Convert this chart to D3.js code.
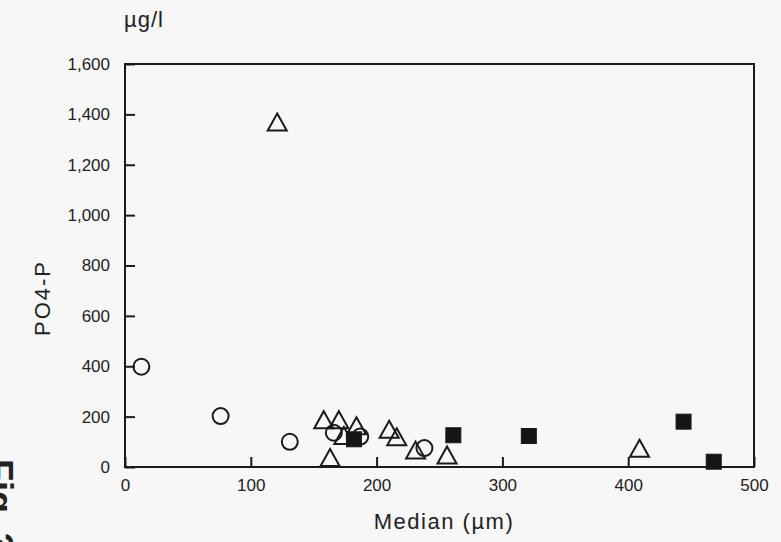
<!DOCTYPE html>
<html>
<head>
<meta charset="utf-8">
<script src="https://cdn.jsdelivr.net/npm/d3@7"></script>
<style>
  html, body { margin: 0; padding: 0; background: #f7f7f7; }
  svg { display: block; }
  text { font-family: "Liberation Sans", Arial, sans-serif; fill: #222; }
</style>
</head>
<body>
<svg id="chart" width="781" height="542"></svg>
<script>
// ---- data ----
const xTicks = [0, 100, 200, 300, 400, 500];
const yTicks = [0, 200, 400, 600, 800, 1000, 1200, 1400, 1600];

const circleX = [13, 76, 131, 166, 187, 238];
const circleY = [398, 202, 100, 136, 121, 75];

const triangleX = [121, 158, 170, 184, 174, 163, 210, 216, 231, 256, 409];
const triangleY = [1370, 188, 188, 164, 125, 38, 150, 120, 67, 48, 74];

const squareX = [182, 261, 321, 444, 468];
const squareY = [110, 126, 123, 180, 21];

const xLabel = "Median (µm)";
const yLabel = "PO4-P";
const unitLabel = "µg/l";
const figLabel = "Fig. 3";

// ---- layout ----
const svg = d3.select("#chart");
const mLeft = 125, mRight = 754, mTop = 64, mBottom = 467;

const x = d3.scaleLinear().domain([0, 500]).range([mLeft, mRight]);
const y = d3.scaleLinear().domain([0, 1600]).range([mBottom, mTop]);
const fmt = d3.format(",");
const ink = "#1a1a1a";

// frame
svg.append("rect")
  .attr("x", mLeft).attr("y", mTop)
  .attr("width", mRight - mLeft).attr("height", mBottom - mTop)
  .attr("fill", "none").attr("stroke", ink).attr("stroke-width", 2);

// x axis (ticks inward)
const xAxis = svg.append("g")
  .attr("transform", `translate(0,${mBottom})`)
  .call(d3.axisBottom(x).tickValues(xTicks).tickSize(-10).tickPadding(12).tickFormat(d3.format("d")));
xAxis.select(".domain").remove();
xAxis.selectAll("line").attr("stroke", ink).attr("stroke-width", 2);
xAxis.selectAll("text").attr("font-size", 17).attr("fill", "#222")
  .attr("font-family", "Liberation Sans, Arial, sans-serif");

// y axis (ticks inward)
const yAxis = svg.append("g")
  .attr("transform", `translate(${mLeft},0)`)
  .call(d3.axisLeft(y).tickValues(yTicks).tickSize(-10).tickPadding(15).tickFormat(fmt));
yAxis.select(".domain").remove();
yAxis.selectAll("line").attr("stroke", ink).attr("stroke-width", 2);
yAxis.selectAll("text").attr("font-size", 17).attr("fill", "#222")
  .attr("font-family", "Liberation Sans, Arial, sans-serif");

// axis titles
svg.append("text")
  .attr("x", 444).attr("y", 529)
  .attr("text-anchor", "middle").attr("font-size", 22).attr("letter-spacing", 1.5)
  .text(xLabel);

svg.append("text")
  .attr("transform", "translate(50,298) rotate(-90)")
  .attr("text-anchor", "middle").attr("font-size", 22).attr("letter-spacing", 2)
  .text(yLabel);

svg.append("text")
  .attr("x", 124).attr("y", 27)
  .attr("font-size", 22).attr("letter-spacing", 1)
  .text(unitLabel);

// cut-off figure caption at the left edge (as in the scanned reference)
svg.append("text")
  .attr("transform", "translate(-13,459) rotate(90)")
  .attr("font-size", 36).attr("font-weight", "bold")
  .text(figLabel);

// ---- marks ----
const circles = circleX.map((v, i) => ({x: v, y: circleY[i]}));
const triangles = triangleX.map((v, i) => ({x: v, y: triangleY[i]}));
const squares = squareX.map((v, i) => ({x: v, y: squareY[i]}));

svg.append("g").selectAll("circle").data(circles).join("circle")
  .attr("cx", d => x(d.x)).attr("cy", d => y(d.y)).attr("r", 8)
  .attr("fill", "none").attr("stroke", ink).attr("stroke-width", 2);

const tw = 19, th = 17;
svg.append("g").selectAll("path").data(triangles).join("path")
  .attr("d", d => {
    const cx = x(d.x), cy = y(d.y);
    return `M${cx},${cy - th / 2}L${cx + tw / 2},${cy + th / 2}L${cx - tw / 2},${cy + th / 2}Z`;
  })
  .attr("fill", "none").attr("stroke", ink).attr("stroke-width", 2).attr("stroke-linejoin", "miter");

const sq = 15;
svg.append("g").selectAll("rect").data(squares).join("rect")
  .attr("x", d => x(d.x) - sq / 2).attr("y", d => y(d.y) - sq / 2)
  .attr("width", sq).attr("height", sq)
  .attr("fill", "#151515").attr("stroke", ink).attr("stroke-width", 1);
</script>
</body>
</html>
